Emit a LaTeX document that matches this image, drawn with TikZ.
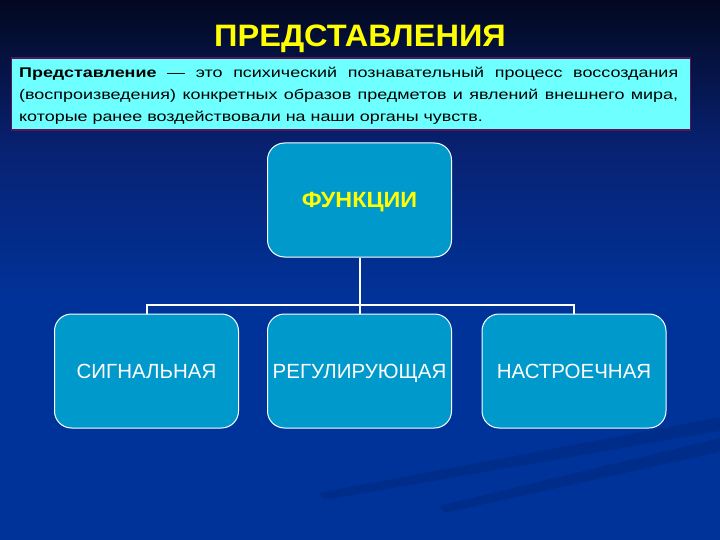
\documentclass[tikz,border=0pt]{standalone}
\usepackage{fontspec}
\setmainfont{Liberation Sans}
\newfontfamily\deffont[FakeStretch=1.28]{Liberation Sans}
\newfontfamily\ttlfont[FakeStretch=1.05]{Liberation Sans}
\newfontfamily\funfont[FakeStretch=1.06]{Liberation Sans}
\definecolor{bgblue}{RGB}{0,51,153}
\definecolor{bgtop}{RGB}{3,8,32}
\definecolor{bgmid}{RGB}{8,34,115}
\definecolor{boxblue}{RGB}{0,153,204}
\definecolor{defcyan}{RGB}{110,255,255}
\definecolor{defborder}{RGB}{90,20,90}
\definecolor{ttlyellow}{RGB}{255,255,0}
\tikzset{
  fbox/.style={draw=white, line width=1pt, fill=boxblue, rounded corners=17pt,
    minimum width=184pt, minimum height=114pt, inner sep=0pt, text=white,
    text height=15pt, text depth=0pt,
    font=\fontsize{20.5}{24}\selectfont},
  conn/.style={draw=white, line width=2pt},
  defbox/.style={draw=defborder, line width=1.5pt, fill=defcyan, inner sep=0pt,
    minimum width=679pt, minimum height=72pt},
}
\begin{document}
\begin{tikzpicture}[x=1pt,y=-1pt]
\useasboundingbox (0,0) rectangle (720,540);
\fill[bgblue] (0,0) rectangle (720,540);
\shade[top color=bgtop, bottom color=bgblue, middle color=bgmid] (0,0) rectangle (720,300);
% faint diagonal streaks
\fill[black, opacity=0.1] (720,417) -- (720,431) -- (325,500) -- (318,493) -- cycle;
\fill[black, opacity=0.1] (720,438) -- (720,452) -- (445,513) -- (438,506) -- cycle;

\node[text=ttlyellow, anchor=base, inner sep=0pt, font=\ttlfont\bfseries\fontsize{31}{34}\selectfont] (title) at (360,47) {ПРЕДСТАВЛЕНИЯ};

\node[defbox] (def) at (351.2,94) {};
\node[text width=659pt, align=justify, inner sep=0pt, anchor=north west,
  font=\deffont\fontsize{14}{22}\selectfont] (deftext) at (19,66.5)
  {\textbf{Представление} — это психический познавательный процесс воссоздания\linebreak[4] (воспроизведения) конкретных образов предметов и явлений внешнего мира,\linebreak[4] которые ранее воздействовали на наши органы чувств.};

\node[fbox, text=ttlyellow, font=\funfont\bfseries\fontsize{22}{24}\selectfont] (top) at (359.5,200) {ФУНКЦИИ};
\node[fbox] (s1) at (146.5,371) {СИГНАЛЬНАЯ};
\node[fbox] (s2) at (359.5,371) {РЕГУЛИРУЮЩАЯ};
\node[fbox] (s3) at (574,371) {НАСТРОЕЧНАЯ};

\draw[conn] (top.south) -- (s2.north);
\draw[conn] (s1.north) -- ++(0,-9) -| (s3.north);
\end{tikzpicture}
\end{document}
